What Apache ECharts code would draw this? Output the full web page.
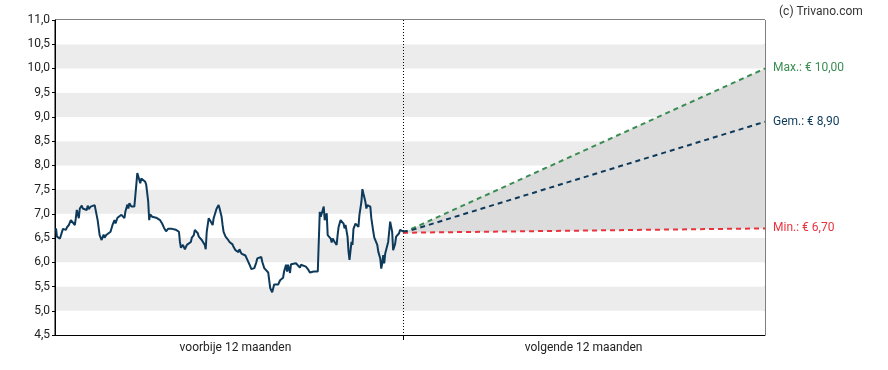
<!DOCTYPE html>
<html>
<head>
<meta charset="utf-8">
<script src="https://cdn.jsdelivr.net/npm/echarts@6/dist/echarts.min.js"></script>
<style>html,body{margin:0;padding:0;background:#fff}#c{width:888px;height:370px}</style>
</head>
<body>
<div id="c"></div>
<script>
// Historical closing prices: [day offset from today, price in EUR]
const history = [
[-350,6.70],[-349,6.53],[-346,6.49],[-344,6.51],[-343,6.69],[-340,6.67],[-339,6.72],[-337,6.77],[-335,6.87],[-333,6.84],
[-331,6.77],[-330,6.91],[-329,7.08],[-327,6.91],[-326,7.11],[-324,7.17],[-323,7.11],[-321,7.15],[-319,7.08],[-318,7.17],
[-317,7.10],[-315,7.15],[-313,7.11],[-311,7.18],[-310,7.15],[-308,6.87],[-306,6.56],[-304,6.46],[-302,6.57],[-301,6.51],
[-299,6.57],[-297,6.55],[-295,6.63],[-293,6.77],[-291,6.87],[-290,6.80],[-288,6.92],[-286,6.94],[-284,6.98],[-282,7.01],
[-281,6.91],[-280,7.05],[-278,7.19],[-277,7.11],[-276,7.22],[-274,7.15],[-273,7.19],[-271,7.15],[-270,7.19],[-269,7.60],
[-268,7.84],[-266,7.80],[-265,7.63],[-264,7.73],[-262,7.70],[-260,7.66],[-259,7.60],[-257,7.25],[-256,6.87],[-255,6.99],
[-253,6.94],[-251,6.96],[-249,6.92],[-247,6.91],[-245,6.87],[-243,6.80],[-241,6.71],[-239,6.64],[-237,6.69],[-235,6.70],
[-233,6.69],[-231,6.71],[-229,6.67],[-228,6.70],[-226,6.63],[-225,6.42],[-224,6.30],[-222,6.36],[-221,6.32],[-220,6.27],
[-218,6.36],[-216,6.37],[-214,6.42],[-213,6.51],[-211,6.56],[-210,6.67],[-208,6.69],[-207,6.60],[-206,6.53],[-204,6.56],
[-203,6.46],[-202,6.42],[-200,6.36],[-199,6.27],[-198,6.63],[-196,6.91],[-195,6.87],[-194,6.84],[-192,6.77],[-191,6.91],
[-190,6.94],[-189,6.87],[-188,7.11],[-186,7.18],[-185,7.11],[-183,6.94],[-182,6.77],[-181,6.63],[-179,6.53],[-177,6.48],
[-175,6.42],[-174,6.41],[-172,6.37],[-171,6.32],[-169,6.25],[-167,6.29],[-166,6.21],[-165,6.27],[-163,6.18],[-161,6.16],
[-159,6.14],[-158,6.16],[-157,6.05],[-155,5.96],[-153,5.86],[-151,5.89],[-150,5.88],[-148,6.00],[-147,6.08],[-145,6.12],
[-143,6.11],[-142,6.01],[-140,5.88],[-139,5.84],[-138,5.86],[-136,5.79],[-135,5.63],[-134,5.47],[-132,5.38],[-131,5.46],
[-130,5.54],[-128,5.56],[-126,5.54],[-124,5.63],[-123,5.67],[-121,5.68],[-120,5.81],[-118,5.95],[-117,5.81],[-116,5.95],
[-114,5.78],[-113,5.96],[-111,5.98],[-108,5.98],[-106,5.96],[-104,5.89],[-103,5.95],[-101,5.91],[-98,5.91],[-96,5.86],
[-94,5.79],[-92,5.77],[-90,5.81],[-88,5.77],[-86,5.81],[-85,5.77],[-84,7.04],[-83,6.94],[-81,7.08],[-80,7.15],
[-79,6.87],[-77,7.01],[-76,6.56],[-75,6.53],[-73,6.49],[-72,6.41],[-71,6.49],[-70,6.46],[-69,6.42],[-67,6.36],
[-66,6.56],[-65,6.73],[-63,6.87],[-62,6.91],[-60,6.80],[-59,6.70],[-58,6.77],[-56,6.53],[-55,6.22],[-54,6.05],
[-52,6.42],[-51,6.36],[-50,6.69],[-48,6.80],[-46,6.77],[-45,6.73],[-44,6.98],[-42,7.25],[-41,7.51],[-40,7.42],
[-38,7.25],[-37,7.11],[-36,7.18],[-34,7.20],[-33,7.15],[-32,6.91],[-30,6.63],[-29,6.51],[-28,6.51],[-26,6.36],
[-25,6.22],[-23,6.08],[-22,5.87],[-21,5.98],[-20,6.15],[-19,5.98],[-18,6.18],[-17,6.22],[-15,6.42],[-14,6.63],
[-13,6.84],[-12,6.87],[-11,6.63],[-10,6.25],[-9,6.23],[-8,6.38],[-7,6.53],[-5,6.57],[-4,6.60],[-3,6.67],
[-1,6.71],[0,6.64],[2,6.63],[4,6.64]
];

// Forecast (next 12 months)
const forecastDays = [0, 365];
const maxTarget = [6.61, 10.00];
const avgTarget = [6.61, 8.90];
const minTarget = [6.61, 6.70];

// Axis
const yMin = 4.5, yMax = 11.0, yStep = 0.5;
const xMin = -351, xMax = 365;
const periodLabelPos = [-169, 182];
const periodLabels = ['voorbije 12 maanden', 'volgende 12 maanden'];
const dividerDay = 0;

const fmt2 = v => v.toFixed(2).replace('.', ',');
const pairs = arr => forecastDays.map((d, i) => [d, arr[i]]);
// band segments: [xStart, xEnd, minStart, maxStart, minEnd, maxEnd]
const bandSegments = [];
for (let i = 0; i < forecastDays.length - 1; i++) {
  bandSegments.push([forecastDays[i], forecastDays[i + 1], minTarget[i], maxTarget[i], minTarget[i + 1], maxTarget[i + 1]]);
}

const FONT = 'Roboto';
const navy = '#0d3a5b', green = '#3a8d52', red = '#e8333d';

const chart = echarts.init(document.getElementById('c'), null, {renderer: 'canvas'});
chart.setOption({
  animation: false,
  textStyle: {fontFamily: FONT},
  title: {
    text: '(c) Trivano.com', left: 774, top: 1,
    textStyle: {fontFamily: FONT, fontSize: 12, fontWeight: 'normal', color: '#333'}
  },
  grid: {left: 55, right: 123, top: 20, bottom: 35, show: true, borderColor: '#000', borderWidth: 1, backgroundColor: 'transparent'},
  xAxis: {
    type: 'value', min: xMin, max: xMax,
    axisLine: {show: true, onZero: false, lineStyle: {color: '#000', width: 1}},
    axisTick: {show: true, customValues: [dividerDay], length: 5, lineStyle: {color: '#000'}},
    axisLabel: {
      customValues: periodLabelPos, margin: 7, color: '#222', fontSize: 12, fontFamily: FONT,
      formatter: v => periodLabels[periodLabelPos.indexOf(v)] || ''
    },
    splitLine: {show: false}
  },
  yAxis: {
    type: 'value', min: yMin, max: yMax, interval: yStep,
    axisLine: {show: true, onZero: false, lineStyle: {color: '#000', width: 1}},
    axisTick: {show: true, length: 3, lineStyle: {color: '#000'}},
    axisLabel: {margin: 5, color: '#222', fontSize: 12, fontFamily: FONT, formatter: v => v.toFixed(1).replace('.', ',')},
    splitLine: {show: false},
    splitArea: {show: true, areaStyle: {color: ['#ffffff', '#ececec']}}
  },
  series: [
    {
      type: 'custom', name: 'band', silent: true, data: bandSegments,
      encode: {x: [0, 1], y: [2, 3, 4, 5]},
      renderItem: (params, api) => {
        const p1 = api.coord([api.value(0), api.value(3)]);
        const p2 = api.coord([api.value(1), api.value(5)]);
        const p3 = api.coord([api.value(1), api.value(4)]);
        const p4 = api.coord([api.value(0), api.value(2)]);
        return {type: 'polygon', shape: {points: [p1, p2, p3, p4]}, style: {fill: '#dcdcdc'}};
      }
    },
    {
      type: 'custom', name: 'divider', silent: true, data: [[dividerDay]],
      encode: {x: 0},
      renderItem: (params, api) => {
        const x = Math.round(api.coord([api.value(0), yMin])[0]) + 0.5;
        const yTop = api.coord([api.value(0), yMax])[1];
        const yBot = api.coord([api.value(0), yMin])[1];
        return {type: 'line', shape: {x1: x, y1: yTop, x2: x, y2: yBot},
          style: {stroke: '#000', lineWidth: 1, lineDash: [1, 2]}};
      }
    },
    {
      type: 'line', name: 'Max', data: pairs(maxTarget), symbol: 'none', silent: true,
      lineStyle: {color: green, width: 2, type: [5, 4]},
      endLabel: {show: true, distance: 8, color: green, fontSize: 12, fontFamily: FONT,
        formatter: p => 'Max.: € ' + fmt2(p.value[1])}
    },
    {
      type: 'line', name: 'Gem', data: pairs(avgTarget), symbol: 'none', silent: true,
      lineStyle: {color: navy, width: 2, type: [5, 4]},
      endLabel: {show: true, distance: 8, color: navy, fontSize: 12, fontFamily: FONT,
        formatter: p => 'Gem.: € ' + fmt2(p.value[1])}
    },
    {
      type: 'line', name: 'Min', data: pairs(minTarget), symbol: 'none', silent: true,
      lineStyle: {color: red, width: 2, type: [5, 4]},
      endLabel: {show: true, distance: 8, color: red, fontSize: 12, fontFamily: FONT,
        formatter: p => 'Min.: € ' + fmt2(p.value[1])}
    },
    {
      type: 'line', name: 'Koers', data: history, symbol: 'none', silent: true,
      lineStyle: {color: navy, width: 2}
    }
  ]
});
</script>
</body>
</html>
